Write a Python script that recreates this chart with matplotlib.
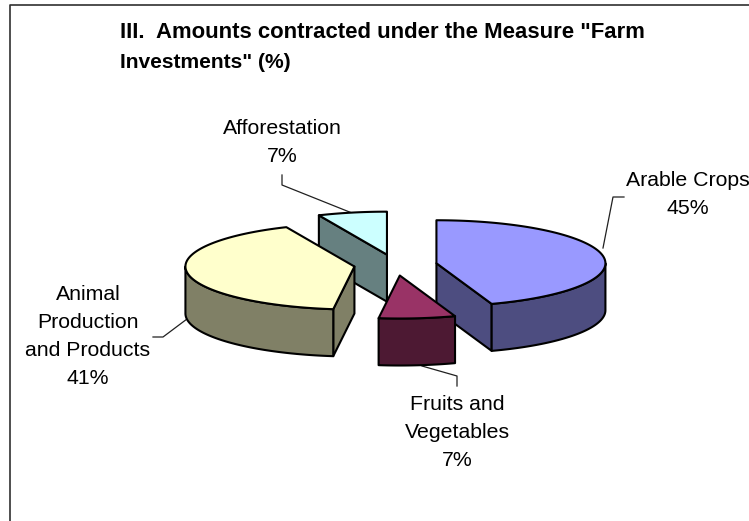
import numpy as np
import matplotlib
matplotlib.use("Agg")
import matplotlib.pyplot as plt
from matplotlib.patches import Polygon

plt.rcParams['font.family'] = ['Liberation Sans', 'DejaVu Sans']

# Data
categories = ["Arable Crops", "Fruits and\nVegetables", "Animal\nProduction\nand Products", "Afforestation"]
values = [44.7, 7.3, 41.4, 6.6]
percent_labels = ["45%", "7%", "41%", "7%"]
top_colors = ["#9999FF", "#993366", "#FFFFCC", "#CCFFFF"]
side_colors = ["#4D4D80", "#4D1933", "#808066", "#668080"]
draw_order = [3, 2, 0, 1]

# Pie layout (pixels)
W, H = 749, 521
CX, CY = 395.5, 265.0
A, B = 169.0, 43.0
DEPTH = 47.0
EXPLODE = 41.5
LW = 1.5

label_pos = [(688, 181, 28), (457, 404, 28), (88, 295, 28), (282, 128, 29)]
leaders = [
    [(603, 248), (613, 197), (624, 197)],
    [(422, 366), (457, 376), (457, 386)],
    [(187, 319), (163, 337), (153, 337)],
    [(352, 213), (282, 185), (282, 175)],
]

fig = plt.figure(figsize=(W / 100, H / 100), dpi=100, facecolor="white")
ax = fig.add_axes([0, 0, 1, 1])
ax.set_xlim(0, W)
ax.set_ylim(H, 0)
ax.axis("off")

# chart frame
ax.plot([10, 10, W], [H, 5, 5], color="#303030", lw=1.2, solid_capstyle="butt", zorder=1)

fractions = np.array(values) / sum(values)
edges = np.concatenate([[0], np.cumsum(fractions)]) * 2 * np.pi


def pt(c, t):
    return np.column_stack([c[0] + A * np.sin(t), c[1] - B * np.cos(t)])


z = 10
for i in draw_order:
    t0, t1 = edges[i], edges[i + 1]
    mid = (t0 + t1) / 2
    c = (CX + EXPLODE * np.sin(mid), CY - EXPLODE * (B / A) * np.cos(mid))
    down = np.array([0, DEPTH])
    apex = np.array(c)
    # cut faces
    for t, normal in ((t0, t0 - np.pi / 2), (t1, t1 + np.pi / 2)):
        if np.cos(normal) < -1e-6:
            p = pt(c, np.array([t]))[0]
            ax.add_patch(Polygon([apex, p, p + down, apex + down], closed=True,
                                 fc=side_colors[i], ec="black", lw=LW, joinstyle="round", zorder=z))
            z += 1
    # outer rim, front half only
    lo, hi = max(t0, np.pi / 2), min(t1, 3 * np.pi / 2)
    if hi > lo:
        arc = pt(c, np.linspace(lo, hi, 80))
        ax.add_patch(Polygon(np.vstack([arc, arc[::-1] + down]), closed=True,
                             fc=side_colors[i], ec="black", lw=LW, joinstyle="round", zorder=z))
        z += 1
    # top face
    arc = pt(c, np.linspace(t0, t1, 120))
    ax.add_patch(Polygon(np.vstack([apex, arc]), closed=True,
                         fc=top_colors[i], ec="black", lw=LW, joinstyle="round", zorder=z))
    z += 1

# leader lines and labels
for pts in leaders:
    xs, ys = zip(*pts)
    ax.plot(xs, ys, color="#202020", lw=0.9, zorder=5)

FS = 15.3
for name, pct, (x, y, step) in zip(categories, percent_labels, label_pos):
    lines = name.split("\n") + [pct]
    for k, line in enumerate(lines):
        ax.text(x, y + k * step, line, ha="center", va="center", fontsize=FS, color="black", zorder=60)

ax.text(120, 33, 'III.  Amounts contracted under the Measure "Farm', fontsize=15.9, fontweight="bold",
        ha="left", va="center", color="black")
ax.text(120, 62, 'Investments" (%)', fontsize=15.1, fontweight="bold",
        ha="left", va="center", color="black")

fig.savefig("out.png", dpi=100)
